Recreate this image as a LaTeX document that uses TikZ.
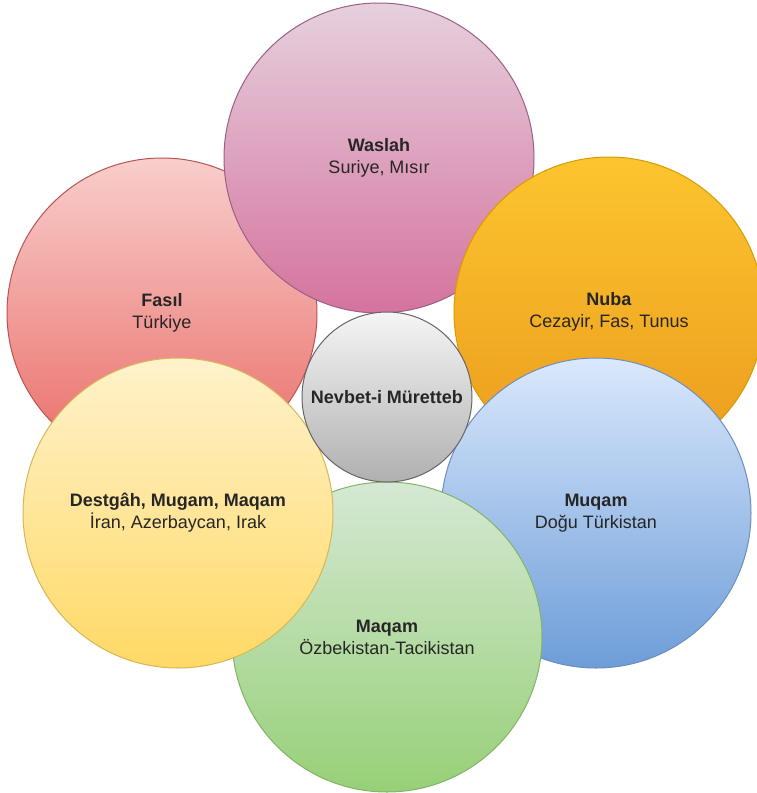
\documentclass[tikz,border=0pt]{standalone}
\usepackage{fontspec}
\setmainfont{Liberation Sans}
\usetikzlibrary{shapes}
% colours of the bubbles (top, bottom, line)
\definecolor{fasilA}{HTML}{F8CECC}
\definecolor{fasilB}{HTML}{EA6B66}
\definecolor{fasilC}{HTML}{B85450}
\definecolor{waslahA}{HTML}{E6D0DE}
\definecolor{waslahB}{HTML}{D5739D}
\definecolor{waslahC}{HTML}{996185}
\definecolor{nubaA}{HTML}{FCC52E}
\definecolor{nubaB}{HTML}{EB9A1E}
\definecolor{nubaC}{HTML}{D79B00}
\definecolor{muqamA}{HTML}{DAE8FC}
\definecolor{muqamB}{HTML}{6D9DD8}
\definecolor{muqamC}{HTML}{6C8EBF}
\definecolor{maqamA}{HTML}{D5E8D4}
\definecolor{maqamB}{HTML}{97D077}
\definecolor{maqamC}{HTML}{82B366}
\definecolor{destgahA}{HTML}{FFF2CC}
\definecolor{destgahB}{HTML}{FFD966}
\definecolor{destgahC}{HTML}{D6B656}
\definecolor{nevbetA}{HTML}{F5F5F5}
\definecolor{nevbetB}{HTML}{B0B0B0}
\definecolor{nevbetC}{HTML}{666666}
\tikzstyle{bubble}=[circle,minimum size=310pt,inner sep=0pt,line width=1pt,align=center,text=black!85,font=\fontsize{18}{22}\selectfont]
\tikzstyle{core}=[bubble,minimum size=170pt]
\tikzstyle{fasil}=[top color=fasilA,bottom color=fasilB,draw=fasilC]
\tikzstyle{waslah}=[top color=waslahA,bottom color=waslahB,draw=waslahC]
\tikzstyle{nuba}=[top color=nubaA,bottom color=nubaB,draw=nubaC]
\tikzstyle{muqam}=[top color=muqamA,bottom color=muqamB,draw=muqamC]
\tikzstyle{maqam}=[top color=maqamA,bottom color=maqamB,draw=maqamC]
\tikzstyle{destgah}=[top color=destgahA,bottom color=destgahB,draw=destgahC]
\tikzstyle{nevbet}=[top color=nevbetA,bottom color=nevbetB,draw=nevbetC]

\begin{document}
\begin{tikzpicture}[x=1pt,y=-1pt]
    % Draw the Nevbet-i Muretteb flower
    \useasboundingbox (0,0) rectangle (757,793);
    \clip (0,0) rectangle (757,793);
    % First we draw the petals, each one over the one before
    \foreach \pos/\name/\title/\sub in {{(162,313)/fasil/Fasıl/Türkiye},
        {(379,158)/waslah/Waslah/{Suriye, Mısır}},
        {(609,312)/nuba/Nuba/{Cezayir, Fas, Tunus}},
        {(596,513)/muqam/Muqam/Doğu Türkistan},
        {(387,637)/maqam/Maqam/Özbekistan-Tacikistan},
        {(178,513)/destgah/{Destgâh, Mugam, Maqam}/{İran, Azerbaycan, Irak}}}
        \node[bubble,\name] (\name) at \pos {\textbf{\title}\\\sub};
    % Then the center on top
    \node[core,nevbet] (nevbet) at (387,397) {\textbf{Nevbet-i Müretteb}};
\end{tikzpicture}
\end{document}
